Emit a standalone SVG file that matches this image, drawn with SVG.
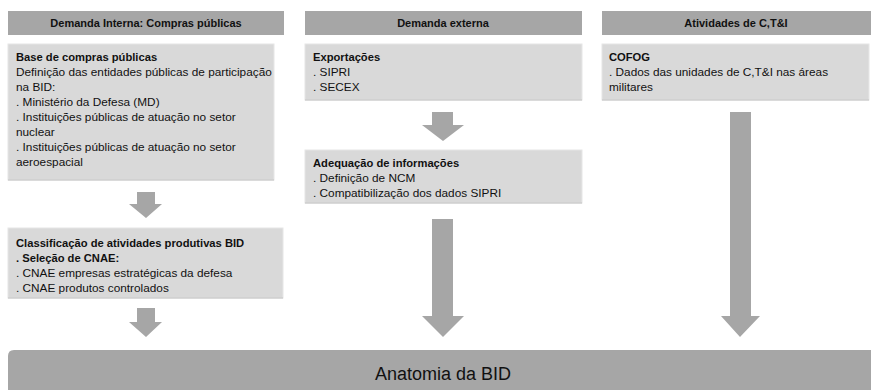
<svg xmlns="http://www.w3.org/2000/svg" width="871" height="390" viewBox="0 0 871 390">
<style>
.hdr{fill:#a6a6a6}
.box{fill:#d9d9d9;stroke:#e6e6e6;stroke-width:1}
.edge{stroke:#c2c2c2;stroke-width:1.2}
.arr{fill:#a6a6a6}
text{font-family:"Liberation Sans","DejaVu Sans",sans-serif;font-size:11.8px;fill:#111}
.b{font-weight:bold;font-size:11.2px}
.h{font-weight:bold;text-anchor:middle;font-size:11px}
.big{font-size:18px;text-anchor:middle}
</style>
<rect width="871" height="390" fill="#fff"/>
<g id="hdr-interna"><rect class="hdr" x="8" y="11" width="276" height="24"/><text class="h" x="146" y="27">Demanda Interna: Compras públicas</text></g>
<g id="hdr-externa"><rect class="hdr" x="305" y="11" width="277" height="24"/><text class="h" x="443" y="27">Demanda externa</text></g>
<g id="hdr-cti"><rect class="hdr" x="602" y="11" width="269" height="24"/><text class="h" x="736" y="27">Atividades de C,T&amp;I</text></g>
<g id="box-base"><rect class="box" x="8" y="44" width="266" height="136"/><line class="edge" x1="8" y1="180" x2="274" y2="180"/>
<text x="16" y="61" class="b">Base de compras públicas</text>
<text x="16" y="76">Definição das entidades públicas de participação</text>
<text x="16" y="91">na BID:</text>
<text x="16" y="106">. Ministério da Defesa (MD)</text>
<text x="16" y="121">. Instituições públicas de atuação no setor</text>
<text x="16" y="136">nuclear</text>
<text x="16" y="151">. Instituições públicas de atuação no setor</text>
<text x="16" y="166">aeroespacial</text></g>
<g id="box-export"><rect class="box" x="305" y="44" width="277" height="56"/><line class="edge" x1="305" y1="100" x2="582" y2="100"/>
<text x="313" y="61" class="b">Exportações</text>
<text x="313" y="76">. SIPRI</text>
<text x="313" y="91">. SECEX</text></g>
<g id="box-cofog"><rect class="box" x="602" y="44" width="267" height="56"/><line class="edge" x1="602" y1="100" x2="869" y2="100"/>
<text x="609" y="61" class="b">COFOG</text>
<text x="609" y="76">. Dados das unidades de C,T&amp;I nas áreas</text>
<text x="609" y="91">militares</text></g>
<g id="box-adequacao"><rect class="box" x="305" y="150" width="277" height="53"/><line class="edge" x1="305" y1="203" x2="582" y2="203"/>
<text x="313" y="167" class="b">Adequação de informações</text>
<text x="313" y="182">. Definição de NCM</text>
<text x="313" y="197">. Compatibilização dos dados SIPRI</text></g>
<g id="box-classif"><rect class="box" x="8" y="228" width="275" height="70"/><line class="edge" x1="8" y1="298" x2="283" y2="298"/>
<text x="16" y="247" class="b">Classificação de atividades produtivas BID</text>
<text x="16" y="262" class="b">. Seleção de CNAE:</text>
<text x="16" y="277">. CNAE empresas estratégicas da defesa</text>
<text x="16" y="292">. CNAE produtos controlados</text></g>
<g id="box-anatomia"><path class="hdr" d="M8,356 Q8,350 14,350 H871 V390 H8 Z"/><text class="big" x="443" y="380">Anatomia da BID</text></g>
<g id="connectors">
<polygon class="arr" points="137,192 155,192 155,204 162,204 146,218 129,204 137,204"/>
<polygon class="arr" points="137,308 155,308 155,322 162,322 146,337 129,322 137,322"/>
<polygon class="arr" points="432,112 453,112 453,125 464,125 443,141 422,125 432,125"/>
<polygon class="arr" points="432,219 453,219 453,316 464,316 443,337 422,316 432,316"/>
<polygon class="arr" points="730,112 751,112 751,316 760,316 740,337 721,316 730,316"/>
</g>
</svg>
